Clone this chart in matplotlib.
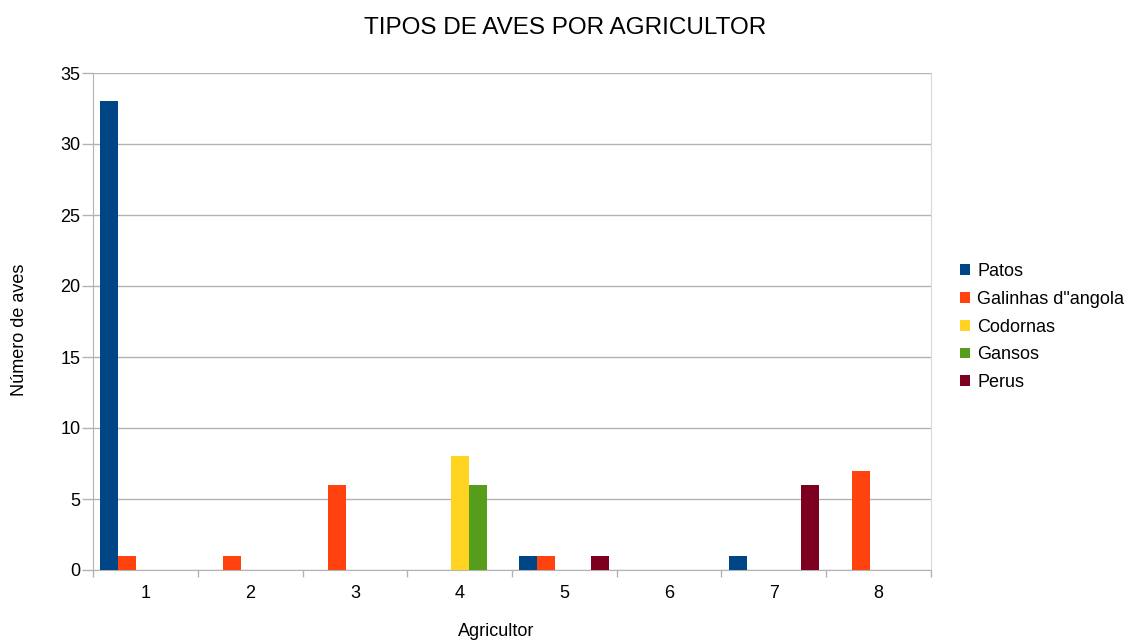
import matplotlib
matplotlib.use("Agg")
import matplotlib.pyplot as plt
import numpy as np

plt.rcParams['font.family'] = ['Liberation Sans', 'DejaVu Sans']

categories = ["1", "2", "3", "4", "5", "6", "7", "8"]
series_names = ["Patos", "Galinhas d\"angola", "Codornas", "Gansos", "Perus"]
patos = [33, 0, 0, 0, 1, 0, 1, 0]
galinhas = [1, 1, 6, 0, 1, 0, 0, 7]
codornas = [0, 0, 0, 8, 0, 0, 0, 0]
gansos = [0, 0, 0, 6, 0, 0, 0, 0]
perus = [0, 0, 0, 0, 1, 0, 6, 0]
colors = ["#004586", "#ff420e", "#ffd320", "#579d1c", "#7e0021"]
yticks = [0, 5, 10, 15, 20, 25, 30, 35]

W, H = 1130, 641
fig = plt.figure(figsize=(W / 100, H / 100), dpi=100)
ax = fig.add_axes([93 / W, (H - 570) / H, (931 - 93) / W, (570 - 73) / H])

x = np.arange(len(categories))
bw = 0.172
all_series = [patos, galinhas, codornas, gansos, perus]
for i, (name, vals, c) in enumerate(zip(series_names, all_series, colors)):
    offs = (i - 2) * bw
    ax.bar(x + offs, vals, width=bw, color=c, label=name, zorder=3)

ax.set_xlim(-0.5, len(categories) - 0.5)
ax.set_ylim(0, 35)
ax.set_yticks(yticks)
ax.set_xticks(x)
ax.set_xticklabels(categories, fontsize=13)
ax.set_xticks(np.arange(-0.5, len(categories), 1.0), minor=True)
ax.tick_params(axis='x', which='major', length=0, pad=11)
ax.tick_params(axis='x', which='minor', length=5, color='#b3b3b3', width=1)
ax.tick_params(axis='y', length=8, color='#b3b3b3', width=1, labelsize=13, pad=1)
ax.yaxis.grid(True, color='#b3b3b3', linewidth=1, zorder=0)
ax.set_axisbelow(True)

for s in ['left', 'bottom']:
    ax.spines[s].set_color('#b3b3b3')
ax.spines['right'].set_color('#d9d9d9')
ax.spines['top'].set_visible(False)

fig.text(565 / W, 1 - 27.5 / H, "TIPOS DE AVES POR AGRICULTOR", ha='center', va='center', fontsize=17.5)
fig.text(496 / W, 1 - 632 / H, "Agricultor", ha='center', va='center', fontsize=13)
fig.text(20 / W, 1 - 330 / H, "Número de aves", ha='center', va='center', rotation=90, fontsize=13)

leg = ax.legend(loc='center left', bbox_to_anchor=(960 / W, 1 - 327 / H), bbox_transform=fig.transFigure,
                frameon=False, fontsize=13, handlelength=0.55, handleheight=0.55, handletextpad=0.4,
                labelspacing=0.6, borderpad=0, borderaxespad=0)

fig.savefig("out.png", dpi=100, facecolor='white')
